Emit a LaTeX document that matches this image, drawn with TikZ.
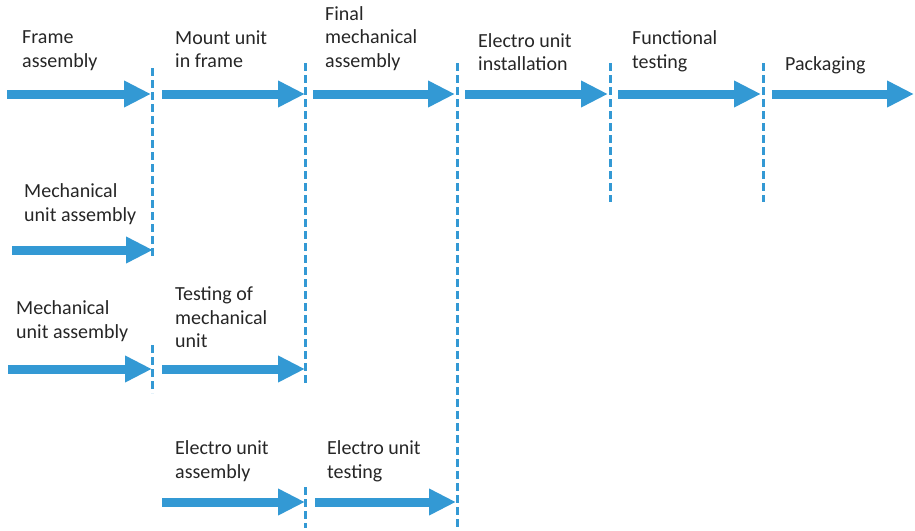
\documentclass[tikz,border=0pt]{standalone}
\usepackage{fontspec}
\setmainfont{Carlito}
\usetikzlibrary{arrows.meta}
\definecolor{flowblue}{HTML}{3399D4}
\definecolor{labelgray}{HTML}{262626}
\tikzset{
  flow/.style={draw=flowblue, line width=9pt,
    -{Triangle[length=27pt,width=25pt]}},
  gate/.style={draw=flowblue, line width=3pt, dash pattern=on 8pt off 4pt},
  stage/.style={anchor=north west, inner sep=0pt, align=left,
    text=labelgray, font=\fontsize{20}{23.5}\selectfont,
    execute at begin node=\strut},
}
\begin{document}
\begin{tikzpicture}[x=1pt, y=-1pt]
\useasboundingbox (0,0) rectangle (915,530);

% vertical dashed gates between stages
\coordinate (g1t) at (152,68);  \coordinate (g1b) at (152,258);
\coordinate (g1bt) at (152,345); \coordinate (g1bb) at (152,393);
\coordinate (g2t) at (305,63);  \coordinate (g2b) at (305,385);
\coordinate (g2bt) at (305,487); \coordinate (g2bb) at (305,528);
\coordinate (g3t) at (457,63);  \coordinate (g3b) at (457,528);
\coordinate (g4t) at (610,63);  \coordinate (g4b) at (610,202);
\coordinate (g5t) at (763,63);  \coordinate (g5b) at (763,202);
\draw[gate] (g1t) -- (g1b);
\draw[gate] (g1bt) -- (g1bb);
\draw[gate] (g2t) -- (g2b);
\draw[gate] (g2bt) -- (g2bb);
\draw[gate] (g3t) -- (g3b);
\draw[gate] (g4t) -- (g4b);
\draw[gate] (g5t) -- (g5b);

% arrow end points
\coordinate (a1s) at (7,94);   \coordinate (a1e) at (151,94);
\coordinate (a2s) at (162,94); \coordinate (a2e) at (305,94);
\coordinate (a3s) at (313,94); \coordinate (a3e) at (455,94);
\coordinate (a4s) at (465,94); \coordinate (a4e) at (608,94);
\coordinate (a5s) at (618,94); \coordinate (a5e) at (761,94);
\coordinate (a6s) at (772,94); \coordinate (a6e) at (914,94);
\coordinate (b1s) at (12,250); \coordinate (b1e) at (153,250);
\coordinate (c1s) at (8,369);  \coordinate (c1e) at (152,369);
\coordinate (c2s) at (162,369); \coordinate (c2e) at (305,369);
\coordinate (d1s) at (162,502); \coordinate (d1e) at (305,502);
\coordinate (d2s) at (315,502); \coordinate (d2e) at (456,502);

\draw[flow] (a1s) -- (a1e);
\draw[flow] (a2s) -- (a2e);
\draw[flow] (a3s) -- (a3e);
\draw[flow] (a4s) -- (a4e);
\draw[flow] (a5s) -- (a5e);
\draw[flow] (a6s) -- (a6e);
\draw[flow] (b1s) -- (b1e);
\draw[flow] (c1s) -- (c1e);
\draw[flow] (c2s) -- (c2e);
\draw[flow] (d1s) -- (d1e);
\draw[flow] (d2s) -- (d2e);

% stage labels (top of strut = first baseline - 16.45)
\node[stage] (frame)  at (22,30.5)  {Frame\\assembly};
\node[stage] (mount)  at (175,30.5) {Mount unit\\in frame};
\node[stage] (final)  at (325,6)    {Final\\mechanical\\assembly};
\node[stage] (einst)  at (478,33)   {Electro unit\\installation};
\node[stage] (func)   at (632,30.5) {Functional\\testing};
\node[stage] (pack)   at (785,53.5) {Packaging};
\node[stage] (mech1)  at (24,183.5) {Mechanical\\unit assembly};
\node[stage] (mech2)  at (16,300.5) {Mechanical\\unit assembly};
\node[stage] (mtest)  at (175,286.5) {Testing of\\mechanical\\unit};
\node[stage] (eass)   at (175,440.5) {Electro unit\\assembly};
\node[stage] (etest)  at (327,440.5) {Electro unit\\testing};
\end{tikzpicture}
\end{document}
